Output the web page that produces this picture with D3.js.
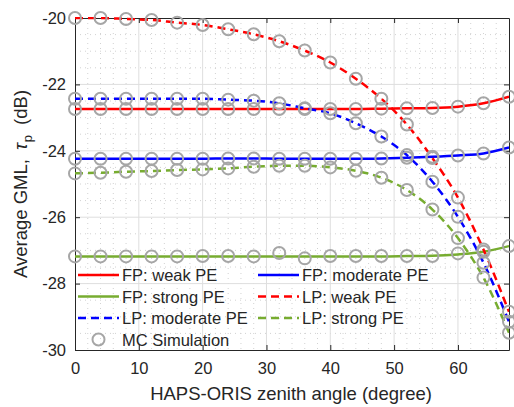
<!DOCTYPE html>
<html>
<head>
<meta charset="utf-8">
<script src="https://cdn.jsdelivr.net/npm/d3@7"></script>
<style>
  html, body { margin: 0; padding: 0; background: #fff; }
  svg { display: block; font-family: "Liberation Sans", Arial, Helvetica, sans-serif; }
</style>
</head>
<body>
<svg id="chart" width="514" height="407"></svg>
<script>
// ---- data ----
const angles = [0, 4, 8, 12, 16, 20, 24, 28, 32, 36, 40, 44, 48, 52, 56, 60, 64, 68];

const fpWeak     = [-22.74, -22.74, -22.74, -22.74, -22.74, -22.74, -22.74, -22.74, -22.74, -22.74, -22.74, -22.74, -22.73, -22.72, -22.71, -22.67, -22.57, -22.37];
const fpModerate = [-24.24, -24.24, -24.24, -24.24, -24.24, -24.24, -24.23, -24.23, -24.24, -24.24, -24.24, -24.24, -24.23, -24.21, -24.18, -24.14, -24.08, -23.90];
const fpStrong   = [-27.18, -27.18, -27.18, -27.18, -27.18, -27.18, -27.18, -27.18, -27.18, -27.18, -27.18, -27.18, -27.18, -27.17, -27.16, -27.12, -27.04, -26.87];
const lpWeak     = [-20.00, -20.00, -20.03, -20.06, -20.14, -20.21, -20.34, -20.49, -20.70, -20.98, -21.34, -21.83, -22.43, -23.21, -24.22, -25.41, -26.97, -28.85];
const lpModerate = [-22.43, -22.43, -22.43, -22.43, -22.43, -22.43, -22.46, -22.49, -22.57, -22.72, -22.87, -23.17, -23.57, -24.13, -24.93, -25.99, -27.37, -29.15];
const lpStrong   = [-24.68, -24.66, -24.63, -24.61, -24.58, -24.56, -24.53, -24.48, -24.45, -24.45, -24.50, -24.60, -24.81, -25.18, -25.77, -26.63, -27.82, -29.48];

// Monte-Carlo simulation points
const mcFpWeak     = fpWeak;
const mcFpModerate = fpModerate;
const mcFpStrong   = [-27.18, -27.18, -27.18, -27.18, -27.18, -27.17, -27.17, -27.18, -27.08, -27.24, -27.17, -27.17, -27.17, -27.17, -27.17, -27.09, -27.04, -26.87];
const mcLpWeak     = lpWeak;
const mcLpModerate = lpModerate;
const mcLpStrong   = lpStrong;

const xTicks = [0, 10, 20, 30, 40, 50, 60];
const yTicks = [-30, -28, -26, -24, -22, -20];

const seriesNames = ["FP: weak PE", "FP: moderate PE", "FP: strong PE", "LP: weak PE", "LP: moderate PE", "LP: strong PE"];
const xLabel = "HAPS-ORIS zenith angle (degree)";
const mcLabel = "MC Simulation";

// ---- layout ----
const W = 514, H = 407;
const m = { left: 75, right: 5, top: 18, bottom: 57 };
const pw = W - m.left - m.right, ph = H - m.top - m.bottom;
const axisColor = "#262626";
const fontSize = 16.5;

const svg = d3.select("#chart");
const g = svg.append("g").attr("transform", `translate(${m.left},${m.top})`);

const x = d3.scaleLinear().domain([0, 68]).range([0, pw]);
const y = d3.scaleLinear().domain([-30, -20]).range([ph, 0]);

// minor grid
const xMinor = d3.range(2, 68, 2).filter(v => v % 10 !== 0);
const yMinor = d3.range(-29.5, -20, 0.5).filter(v => Math.abs(v % 2) > 1e-6);
g.append("g").selectAll("line").data(xMinor).join("line")
  .attr("x1", d => x(d)).attr("x2", d => x(d)).attr("y1", 0).attr("y2", ph)
  .attr("stroke", "#d2d2d2").attr("stroke-width", 1).attr("stroke-dasharray", "1,4");
g.append("g").selectAll("line").data(yMinor).join("line")
  .attr("y1", d => y(d)).attr("y2", d => y(d)).attr("x1", 0).attr("x2", pw)
  .attr("stroke", "#d2d2d2").attr("stroke-width", 1).attr("stroke-dasharray", "1,4");

// major grid
g.append("g").selectAll("line").data(xTicks.filter(d => d > 0)).join("line")
  .attr("x1", d => x(d)).attr("x2", d => x(d)).attr("y1", 0).attr("y2", ph)
  .attr("stroke", "#dedede").attr("stroke-width", 1);
g.append("g").selectAll("line").data(yTicks.filter(d => d > -30 && d < -20)).join("line")
  .attr("y1", d => y(d)).attr("y2", d => y(d)).attr("x1", 0).attr("x2", pw)
  .attr("stroke", "#dedede").attr("stroke-width", 1);

// axes
function styleAxis(sel) {
  sel.select(".domain").attr("stroke", axisColor).attr("stroke-width", 1);
  sel.selectAll(".tick line").attr("stroke", axisColor);
  sel.selectAll(".tick text").attr("fill", axisColor).style("font-size", fontSize + "px")
     .style("font-family", '"Liberation Sans", Arial, sans-serif');
}
const fmt = d => (d < 0 ? "-" + Math.abs(d) : String(d));
g.append("g").attr("transform", `translate(0,${ph})`)
  .call(d3.axisBottom(x).tickValues(xTicks).tickFormat(fmt).tickSizeInner(-5).tickSizeOuter(0).tickPadding(12))
  .call(styleAxis);
g.append("g")
  .call(d3.axisLeft(y).tickValues(yTicks).tickFormat(fmt).tickSizeInner(-5).tickSizeOuter(0).tickPadding(9))
  .call(styleAxis);
g.append("g")
  .call(d3.axisTop(x).tickValues(xTicks).tickFormat("").tickSizeInner(-5).tickSizeOuter(0))
  .call(styleAxis);
g.append("g").attr("transform", `translate(${pw},0)`)
  .call(d3.axisRight(y).tickValues(yTicks).tickFormat("").tickSizeInner(-5).tickSizeOuter(0))
  .call(styleAxis);

// series
const red = "#ff0000", blue = "#0000ff", green = "#77ac30", gray = "#a6a6a6";
const series = [
  { name: seriesNames[0], vals: fpWeak,     mc: mcFpWeak,     color: red,   dash: null },
  { name: seriesNames[1], vals: fpModerate, mc: mcFpModerate, color: blue,  dash: null },
  { name: seriesNames[2], vals: fpStrong,   mc: mcFpStrong,   color: green, dash: null },
  { name: seriesNames[3], vals: lpWeak,     mc: mcLpWeak,     color: red,   dash: "8,5" },
  { name: seriesNames[4], vals: lpModerate, mc: mcLpModerate, color: blue,  dash: "8,5" },
  { name: seriesNames[5], vals: lpStrong,   mc: mcLpStrong,   color: green, dash: "8,5" }
];
const line = d3.line().x(d => x(d[0])).y(d => y(d[1])).curve(d3.curveMonotoneX);

svg.append("defs").append("clipPath").attr("id", "clip")
  .append("rect").attr("x", 0).attr("y", -1).attr("width", pw).attr("height", ph + 2);

const lines = g.append("g").attr("clip-path", "url(#clip)");
series.forEach(s => {
  lines.append("path").datum(angles.map((a, i) => [a, s.vals[i]]))
    .attr("d", line).attr("fill", "none").attr("stroke", s.color)
    .attr("stroke-width", 2.5).attr("stroke-dasharray", s.dash);
});

const markers = g.append("g");
series.forEach(s => {
  markers.selectAll(null).data(angles.map((a, i) => [a, s.mc[i]])).join("circle")
    .attr("cx", d => x(d[0])).attr("cy", d => y(d[1])).attr("r", 6)
    .attr("fill", "none").attr("stroke", gray).attr("stroke-width", 2);
});

// legend
const legend = svg.append("g");
const legItems = [
  { s: series[0], col: 0, row: 0 }, { s: series[1], col: 1, row: 0 },
  { s: series[2], col: 0, row: 1 }, { s: series[3], col: 1, row: 1 },
  { s: series[4], col: 0, row: 2 }, { s: series[5], col: 1, row: 2 }
];
const colX = [78, 258], rowY = [275, 296.5, 318, 339.5], lineLen = 41;
legItems.forEach(it => {
  const lx = colX[it.col], ly = rowY[it.row];
  legend.append("line").attr("x1", lx).attr("x2", lx + lineLen).attr("y1", ly).attr("y2", ly)
    .attr("stroke", it.s.color).attr("stroke-width", 2.5).attr("stroke-dasharray", it.s.dash);
  legend.append("text").attr("x", lx + lineLen + 3).attr("y", ly + 6)
    .attr("fill", axisColor).style("font-size", fontSize + "px").text(it.s.name);
});
legend.append("circle").attr("cx", colX[0] + lineLen / 2).attr("cy", rowY[3]).attr("r", 6)
  .attr("fill", "none").attr("stroke", gray).attr("stroke-width", 2);
legend.append("text").attr("x", colX[0] + lineLen + 3).attr("y", rowY[3] + 6)
  .attr("fill", axisColor).style("font-size", fontSize + "px").text(mcLabel);

// axis labels
svg.append("text").attr("x", m.left + pw / 2 - 1).attr("y", 400).attr("text-anchor", "middle")
  .attr("fill", axisColor).style("font-size", "18.5px").text(xLabel);

const yl = svg.append("text").attr("transform", `translate(27,278) rotate(-90)`)
  .attr("text-anchor", "start").attr("fill", axisColor).style("font-size", "18.5px");
yl.append("tspan").text("Average GML,");
yl.append("tspan").attr("dx", 9).style("font-style", "italic").text("τ");
yl.append("tspan").attr("dy", 5).attr("dx", 1).style("font-size", "13px").text("p");
yl.append("tspan").attr("dy", -5).attr("dx", 10).text("(dB)");
</script>
</body>
</html>
